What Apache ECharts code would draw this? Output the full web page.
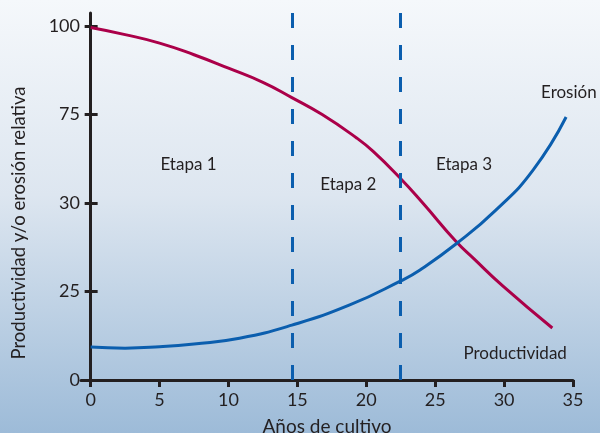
<!DOCTYPE html>
<html>
<head>
<meta charset="utf-8">
<script src="https://cdn.jsdelivr.net/npm/echarts@6/dist/echarts.min.js"></script>
<style>
  html, body { margin: 0; padding: 0; }
  #chart { width: 600px; height: 433px; }
</style>
</head>
<body>
<div id="chart"></div>
<script>
// datos (eje y en posiciones 0..100, etiquetas no lineales)
const prodYears = [0, 2.5, 5, 7.5, 10, 12.5, 14.6, 16.8, 19.3, 20.5, 22.4, 24.1, 26.5, 27.8, 29.9, 33.5];
const prodValues = [99.6, 97.6, 95.2, 91.9, 88.1, 84.1, 79.8, 75.0, 68.4, 64.6, 57.3, 50.0, 39.2, 34.3, 26.6, 14.7];
const erosionYears = [0, 2.5, 5, 7.5, 10.8, 14.6, 18.8, 22.5, 23.9, 26.6, 29.4, 32.1, 34.5];
const erosionValues = [9.3, 9.0, 9.4, 10.2, 11.8, 15.5, 21.2, 28, 31.1, 38.7, 48.0, 59.3, 74.3];
const stageLimits = [14.6, 22.5];
const yTickPos = [0, 25, 50, 75, 100];
const yTickLabels = ['0', '25', '30', '75', '100'];
const xTicks = [0, 5, 10, 15, 20, 25, 30, 35];
const notes = [
  { text: 'Etapa 1', x: 7.1, y: 60.8 },
  { text: 'Etapa 2', x: 18.7, y: 55.1 },
  { text: 'Etapa 3', x: 27.1, y: 60.8 },
  { text: 'Erosión', x: 34.7, y: 81.2 },
  { text: 'Productividad', x: 30.8, y: 7.6 }
];

const ink = '#231f20';
const font = 'Lato';
const red = '#ab0049';
const blue = '#0b5eae';

const myChart = echarts.init(document.getElementById('chart'));

const baseX = {
  type: 'value', min: -0.7, max: 35,
  splitLine: { show: false }
};
const baseY = {
  type: 'value', min: 0, max: 103.7,
  splitLine: { show: false }
};

const options = {
  animation: false,
  backgroundColor: {
    type: 'linear', x: 0, y: 0, x2: 0, y2: 1,
    colorStops: [
      { offset: 0, color: '#f5f8fb' },
      { offset: 0.45, color: '#dde6f0' },
      { offset: 1, color: '#9dbbd8' }
    ]
  },
  grid: { left: 81, right: 27, top: 13, bottom: 53, containLabel: false, outerBoundsMode: 'none' },
  xAxis: [
    Object.assign({}, baseX, {
      axisLine: { lineStyle: { color: ink, width: 3 } },
      axisTick: { customValues: xTicks, length: 7, lineStyle: { color: ink, width: 3 } },
      axisLabel: { customValues: xTicks, color: ink, fontFamily: font, fontSize: 18, margin: 11 },
      name: 'Años de cultivo', nameLocation: 'middle', nameGap: 37,
      nameTextStyle: { color: ink, fontFamily: font, fontSize: 19 }
    }),
    Object.assign({}, baseX, {
      axisLine: { show: false },
      axisTick: { customValues: xTicks, inside: true, length: 7, lineStyle: { color: ink, width: 3 } },
      axisLabel: { show: false }
    })
  ],
  yAxis: [
    Object.assign({}, baseY, {
      axisLine: { lineStyle: { color: ink, width: 3 } },
      axisTick: { customValues: yTickPos, length: 6, lineStyle: { color: ink, width: 3 } },
      axisLabel: {
        customValues: yTickPos, color: ink, fontFamily: font, fontSize: 18, margin: 1,
        formatter: v => yTickLabels[yTickPos.indexOf(v)]
      }
    }),
    Object.assign({}, baseY, {
      position: 'left',
      axisLine: { show: false },
      axisTick: { customValues: yTickPos, inside: true, length: 7, lineStyle: { color: ink, width: 3 } },
      axisLabel: { show: false }
    })
  ],
  graphic: [{
    type: 'text', x: 19, y: 223, rotation: Math.PI / 2,
    style: {
      text: 'Productividad y/o erosión relativa',
      fill: ink, font: '18.5px Lato', align: 'center', verticalAlign: 'middle'
    }
  }],
  series: [
    {
      name: 'Productividad', type: 'line', smooth: 0.5, symbol: 'none',
      data: prodYears.map((x, i) => [x, prodValues[i]]),
      lineStyle: { color: red, width: 3 },
      markLine: {
        silent: true, symbol: 'none', label: { show: false },
        lineStyle: { color: blue, width: 3, type: [15, 17] },
        data: stageLimits.map(x => ({ xAxis: x }))
      },
      markPoint: {
        symbol: 'circle', symbolSize: 1, silent: true,
        itemStyle: { color: 'rgba(0,0,0,0)' },
        label: { show: true, position: 'inside', color: ink, fontFamily: font, fontSize: 17, formatter: p => p.name },
        data: notes.map(n => ({ name: n.text, coord: [n.x, n.y] }))
      }
    },
    {
      name: 'Erosión', type: 'line', smooth: 0.5, symbol: 'none',
      data: erosionYears.map((x, i) => [x, erosionValues[i]]),
      lineStyle: { color: blue, width: 3 }
    }
  ]
};
myChart.setOption(options);
</script>
</body>
</html>
